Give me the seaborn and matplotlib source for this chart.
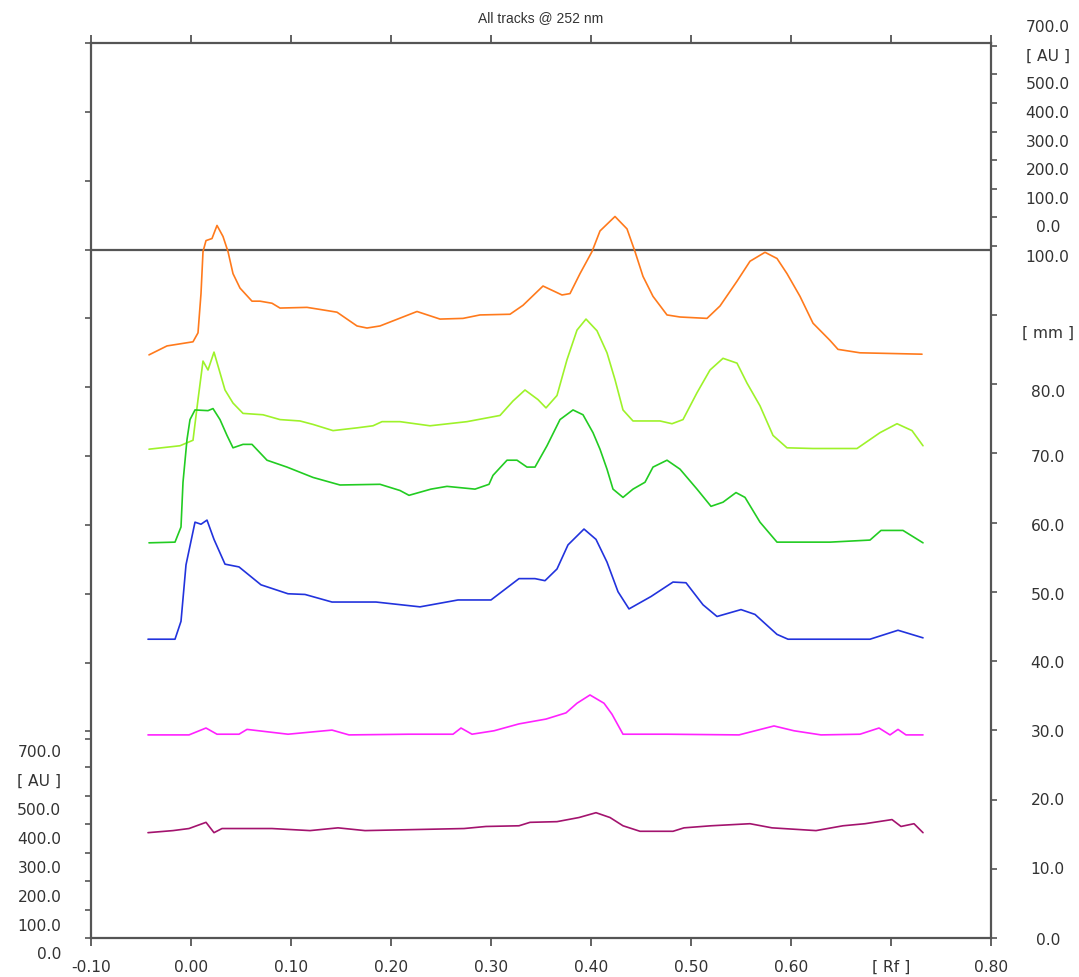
import numpy as np
import pandas as pd
import matplotlib
matplotlib.use("Agg")
import matplotlib.pyplot as plt
import seaborn as sns

# ---- track data: Rf position and height on the [mm] scale ----
orange_rf = [-0.042, -0.024, 0.002, 0.007, 0.010, 0.012, 0.015, 0.021, 0.026, 0.032, 0.037, 0.042,
             0.049, 0.061, 0.069, 0.081, 0.089, 0.116, 0.129, 0.146, 0.166, 0.176, 0.189, 0.226,
             0.249, 0.272, 0.289, 0.319, 0.332, 0.352, 0.371, 0.379, 0.389, 0.401, 0.409, 0.424,
             0.436, 0.444, 0.452, 0.462, 0.476, 0.489, 0.516, 0.529, 0.546, 0.559, 0.574, 0.586,
             0.596, 0.609, 0.622, 0.639, 0.647, 0.669, 0.731]
orange_mm = [84.7, 86.0, 86.6, 87.9, 93.6, 99.7, 101.3, 101.6, 103.5, 101.9, 99.7, 96.5,
             94.4, 92.5, 92.5, 92.2, 91.5, 91.6, 91.3, 90.9, 88.9, 88.6, 88.9, 91.0,
             89.9, 90.0, 90.5, 90.6, 91.9, 94.7, 93.4, 93.6, 96.5, 99.7, 102.7, 104.8,
             103.0, 99.7, 96.1, 93.2, 90.5, 90.2, 90.0, 91.8, 95.4, 98.3, 99.6, 98.7,
             96.5, 93.2, 89.3, 86.8, 85.5, 85.0, 84.8]

lime_rf = [-0.042, -0.011, 0.002, 0.007, 0.012, 0.017, 0.023, 0.029, 0.034, 0.042, 0.052, 0.072,
           0.089, 0.109, 0.122, 0.142, 0.166, 0.182, 0.191, 0.209, 0.239, 0.276, 0.309, 0.322,
           0.334, 0.347, 0.355, 0.366, 0.376, 0.386, 0.395, 0.406, 0.416, 0.424, 0.432, 0.442,
           0.469, 0.481, 0.492, 0.506, 0.519, 0.532, 0.546, 0.556, 0.569, 0.582, 0.596, 0.622,
           0.666, 0.689, 0.706, 0.721, 0.732]
lime_mm = [71.0, 71.5, 72.3, 78.2, 83.8, 82.5, 85.1, 82.1, 79.6, 77.7, 76.2, 76.0,
           75.3, 75.1, 74.6, 73.7, 74.1, 74.4, 75.0, 75.0, 74.4, 75.0, 75.9, 78.0,
           79.6, 78.2, 77.0, 78.8, 84.0, 88.3, 89.9, 88.2, 85.0, 81.1, 76.7, 75.1,
           75.1, 74.7, 75.3, 79.2, 82.5, 84.2, 83.5, 80.6, 77.3, 73.0, 71.2, 71.1,
           71.1, 73.4, 74.7, 73.7, 71.5]

green_rf = [-0.042, -0.016, -0.010, -0.008, -0.004, -0.001, 0.004, 0.017, 0.022, 0.029, 0.036,
            0.042, 0.052, 0.061, 0.076, 0.096, 0.122, 0.149, 0.189, 0.209, 0.218, 0.240, 0.256,
            0.284, 0.298, 0.302, 0.316, 0.326, 0.336, 0.344, 0.356, 0.369, 0.382, 0.392, 0.402,
            0.409, 0.416, 0.422, 0.432, 0.442, 0.454, 0.462, 0.476, 0.489, 0.506, 0.520, 0.532,
            0.545, 0.554, 0.569, 0.586, 0.639, 0.679, 0.690, 0.712, 0.732]
green_mm = [57.4, 57.5, 59.7, 66.2, 72.4, 75.3, 76.7, 76.6, 76.9, 75.3, 73.0,
            71.2, 71.7, 71.7, 69.4, 68.4, 66.9, 65.8, 65.9, 65.0, 64.3, 65.2, 65.6,
            65.2, 65.9, 67.2, 69.4, 69.4, 68.4, 68.4, 71.5, 75.3, 76.7, 76.0, 73.4,
            71.0, 68.1, 65.2, 64.0, 65.2, 66.2, 68.4, 69.4, 68.1, 65.2, 62.7, 63.3,
            64.7, 64.0, 60.4, 57.5, 57.5, 57.8, 59.2, 59.2, 57.4]

blue_rf = [-0.043, -0.016, -0.010, -0.005, 0.004, 0.010, 0.016, 0.023, 0.034, 0.048, 0.070,
           0.097, 0.114, 0.141, 0.185, 0.229, 0.267, 0.300, 0.328, 0.344, 0.354, 0.366, 0.377,
           0.393, 0.405, 0.416, 0.427, 0.438, 0.460, 0.482, 0.495, 0.512, 0.526, 0.550, 0.564,
           0.586, 0.597, 0.679, 0.707, 0.732]
blue_mm = [43.4, 43.4, 46.0, 54.2, 60.4, 60.1, 60.7, 57.9, 54.3, 53.9, 51.3,
           50.0, 49.9, 48.8, 48.8, 48.1, 49.1, 49.1, 52.2, 52.2, 51.9, 53.6, 57.1,
           59.4, 57.9, 54.6, 50.3, 47.8, 49.6, 51.7, 51.6, 48.4, 46.7, 47.7, 47.0,
           44.1, 43.4, 43.4, 44.7, 43.6]

magenta_rf = [-0.043, -0.002, 0.015, 0.026, 0.048, 0.056, 0.097, 0.141, 0.158, 0.218, 0.262,
              0.270, 0.281, 0.303, 0.328, 0.355, 0.375, 0.386, 0.399, 0.413, 0.421, 0.432,
              0.476, 0.548, 0.583, 0.603, 0.630, 0.669, 0.688, 0.699, 0.707, 0.715, 0.732]
magenta_mm = [29.5, 29.5, 30.5, 29.6, 29.6, 30.3, 29.6, 30.2, 29.5, 29.6, 29.6,
              30.5, 29.6, 30.1, 31.1, 31.8, 32.7, 34.1, 35.3, 34.1, 32.5, 29.6,
              29.6, 29.5, 30.8, 30.1, 29.5, 29.6, 30.5, 29.5, 30.3, 29.5, 29.5]

purple_rf = [-0.043, -0.018, -0.002, 0.015, 0.023, 0.031, 0.081, 0.119, 0.147, 0.174, 0.273,
             0.295, 0.328, 0.339, 0.366, 0.388, 0.405, 0.419, 0.432, 0.449, 0.482, 0.493,
             0.520, 0.559, 0.581, 0.625, 0.652, 0.674, 0.701, 0.710, 0.723, 0.732]
purple_mm = [15.3, 15.6, 15.9, 16.8, 15.3, 15.9, 15.9, 15.6, 16.0, 15.6, 15.9,
             16.2, 16.3, 16.8, 16.9, 17.5, 18.2, 17.5, 16.3, 15.5, 15.5, 16.0,
             16.3, 16.6, 16.0, 15.6, 16.3, 16.6, 17.2, 16.2, 16.6, 15.3]

track_names = ["orange", "lime", "green", "blue", "magenta", "purple"]
track_colors = ["#ff7a1c", "#9ef22a", "#22cc22", "#2233dd", "#ff22ff", "#a3136e"]

x_ticks = [-0.10, 0.00, 0.10, 0.20, 0.30, 0.40, 0.50, 0.60, 0.70, 0.80]
x_labels = ["-0.10", "0.00", "0.10", "0.20", "0.30", "0.40", "0.50", "0.60", "[ Rf ]", "0.80"]
mm_ticks = [0, 10, 20, 30, 40, 50, 60, 70, 80, 90, 100]
mm_labels = ["0.0", "10.0", "20.0", "30.0", "40.0", "50.0", "60.0", "70.0", "80.0", "[ mm ]", "100.0"]
# where the right-hand labels sit (they drift below their ticks towards the top)
mm_label_pos = [-0.3, 10.0, 19.9, 29.9, 39.9, 49.7, 59.8, 69.8, 79.2, 87.9, 98.8]
au_vals = [0, 100, 200, 300, 400, 500, 600, 700]
au_labels = ["0.0", "100.0", "200.0", "300.0", "400.0", "500.0", "[ AU ]", "700.0"]

# ---- build long table ----
parts = []
for name, rf, mm in zip(track_names,
                        [orange_rf, lime_rf, green_rf, blue_rf, magenta_rf, purple_rf],
                        [orange_mm, lime_mm, green_mm, blue_mm, magenta_mm, purple_mm]):
    parts.append(pd.DataFrame({"rf": rf, "mm": mm, "track": name}))
df = pd.concat(parts, ignore_index=True)

sns.set_style("white")
plt.rcParams["font.family"] = ["DejaVu Sans"]

W, H = 1079, 977
fig = plt.figure(figsize=(W / 100, H / 100), dpi=100)
ax = fig.add_axes([91 / W, (H - 938) / H, 900 / W, 895 / H])

sns.lineplot(data=df, x="rf", y="mm", hue="track", palette=dict(zip(track_names, track_colors)),
             estimator=None, sort=False, legend=False, linewidth=1.2, ax=ax)

YMAX = 129.3
AU_MM = 28.9 / 700  # mm per AU unit on the inset scales
ax.set_xlim(-0.10, 0.80)
ax.set_ylim(0, YMAX)
ax.axhline(100, color="#555555", lw=1.6, zorder=1)

gray = "#555555"
txt = "#333333"
FS = 11.2
for s in ax.spines.values():
    s.set_color(gray)
    s.set_linewidth(1.6)

# bottom / top x ticks
ax.set_xticks(x_ticks)
ax.set_xticklabels(x_labels)
ax.tick_params(axis="x", which="both", bottom=True, top=True, direction="out", length=6,
               width=1.3, color=gray, pad=10, labelsize=FS, labelcolor=txt)
ax.set_xlabel("")
ax.set_ylabel("")

# left ticks: mm 30..130 plus bottom AU scale
left_ticks = [v * AU_MM for v in au_vals] + list(range(30, 131, 10))
ax.set_yticks(left_ticks)
ax.set_yticklabels([])
ax.tick_params(axis="y", which="both", left=True, direction="out", length=4, width=1.2, color=gray)

# right ticks: mm 0..100 plus top AU scale
rax = ax.twinx()
rax.set_ylim(0, YMAX)
rax.set_yticks(mm_ticks + [100 + v * AU_MM for v in au_vals[1:]])
rax.set_yticklabels([])
rax.tick_params(axis="y", direction="out", length=4, width=1.2, color=gray)
for s in rax.spines.values():
    s.set_visible(False)

ytr = ax.get_yaxis_transform()
# right mm labels
for pos, lab in zip(mm_label_pos, mm_labels):
    ax.text(1.063, pos, lab, transform=ytr, ha="center", va="center",
            fontsize=FS, color=txt, clip_on=False)
# top-right AU labels
for v, lab in zip(au_vals, au_labels):
    ax.text(1.063, 103.2 + v * 0.0414, lab, transform=ytr,
            ha="center", va="center", fontsize=FS, color=txt, clip_on=False)
# bottom-left AU labels
for v, lab in zip(au_vals, au_labels):
    ax.text(-0.033, -2.46 + v * 0.042, lab, transform=ytr,
            ha="right", va="center", fontsize=FS, color=txt, clip_on=False)

fig.text(541 / W, 1 - 18 / H, "All tracks @ 252 nm", ha="center", va="center",
         fontsize=10, color=txt, family="Liberation Sans")

fig.savefig("out.png", dpi=100)
